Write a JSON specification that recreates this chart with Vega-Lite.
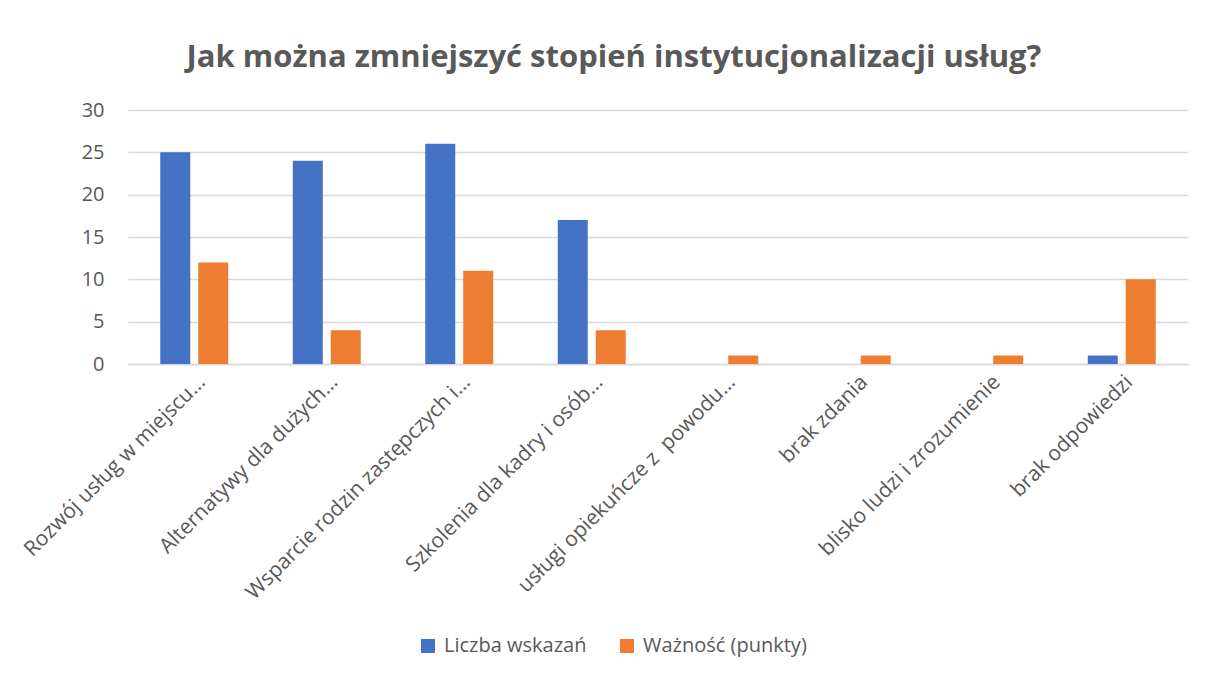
{
  "$schema": "https://vega.github.io/schema/vega-lite/v6.json",
  "autosize": {"type": "none"},
  "width": 1060,
  "height": 254,
  "padding": {"left": 128, "top": 110, "right": 17, "bottom": 311},
  "background": "white",
  "title": {
    "text": "Jak można zmniejszyć stopień instytucjonalizacji usług?",
    "font": "Open Sans",
    "fontSize": 31,
    "fontWeight": "bold",
    "color": "#595959",
    "anchor": "middle",
    "dx": -44,
    "offset": 26
  },
  "data": {
    "values": [
      {"kategoria": "Rozwój usług w miejscu…", "seria": "Liczba wskazań", "wartosc": 25},
      {"kategoria": "Rozwój usług w miejscu…", "seria": "Ważność (punkty)", "wartosc": 12},
      {"kategoria": "Alternatywy dla dużych…", "seria": "Liczba wskazań", "wartosc": 24},
      {"kategoria": "Alternatywy dla dużych…", "seria": "Ważność (punkty)", "wartosc": 4},
      {"kategoria": "Wsparcie rodzin zastępczych i…", "seria": "Liczba wskazań", "wartosc": 26},
      {"kategoria": "Wsparcie rodzin zastępczych i…", "seria": "Ważność (punkty)", "wartosc": 11},
      {"kategoria": "Szkolenia dla kadry i osób…", "seria": "Liczba wskazań", "wartosc": 17},
      {"kategoria": "Szkolenia dla kadry i osób…", "seria": "Ważność (punkty)", "wartosc": 4},
      {"kategoria": "usługi opiekuńcze z\u00a0 powodu…", "seria": "Liczba wskazań", "wartosc": 0},
      {"kategoria": "usługi opiekuńcze z\u00a0 powodu…", "seria": "Ważność (punkty)", "wartosc": 1},
      {"kategoria": "brak zdania", "seria": "Liczba wskazań", "wartosc": 0},
      {"kategoria": "brak zdania", "seria": "Ważność (punkty)", "wartosc": 1},
      {"kategoria": "blisko ludzi i zrozumienie", "seria": "Liczba wskazań", "wartosc": 0},
      {"kategoria": "blisko ludzi i zrozumienie", "seria": "Ważność (punkty)", "wartosc": 1},
      {"kategoria": "brak odpowiedzi", "seria": "Liczba wskazań", "wartosc": 1},
      {"kategoria": "brak odpowiedzi", "seria": "Ważność (punkty)", "wartosc": 10}
    ]
  },
  "mark": {"type": "bar"},
  "encoding": {
    "x": {
      "field": "kategoria",
      "type": "nominal",
      "sort": null,
      "scale": {"paddingInner": 0.487, "paddingOuter": 0.2435},
      "axis": {
        "title": null,
        "labelAngle": -45,
        "labelAlign": "right",
        "labelBaseline": "top",
        "labelFont": "Open Sans",
        "labelFontSize": 21,
        "labelColor": "#595959",
        "labelPadding": 7,
        "labelDx": 4,
        "labelDy": 4,
        "labelLimit": 0,
        "ticks": false,
        "domainColor": "#D9D9D9",
        "domainWidth": 1.5
      }
    },
    "xOffset": {
      "field": "seria",
      "type": "nominal",
      "sort": ["Liczba wskazań", "Ważność (punkty)"],
      "scale": {"paddingInner": 0.21, "paddingOuter": 0}
    },
    "y": {
      "field": "wartosc",
      "type": "quantitative",
      "scale": {"domain": [0, 30]},
      "axis": {
        "title": null,
        "values": [0, 5, 10, 15, 20, 25, 30],
        "domain": false,
        "ticks": false,
        "gridColor": "#D9D9D9",
        "gridWidth": 1.5,
        "labelFont": "Open Sans",
        "labelFontSize": 20,
        "labelColor": "#595959",
        "labelPadding": 24
      }
    },
    "color": {
      "field": "seria",
      "type": "nominal",
      "scale": {"domain": ["Liczba wskazań", "Ważność (punkty)"], "range": ["#4472C4", "#ED7D31"]},
      "legend": {
        "title": null,
        "orient": "none",
        "direction": "horizontal",
        "legendX": 290,
        "legendY": 526,
        "symbolType": "square",
        "symbolSize": 196,
        "symbolStrokeWidth": 0,
        "labelFont": "Open Sans",
        "labelFontSize": 20,
        "labelColor": "#595959",
        "labelOffset": 6,
        "labelLimit": 0,
        "columnPadding": 30
      }
    }
  },
  "config": {"view": {"stroke": null}}
}
